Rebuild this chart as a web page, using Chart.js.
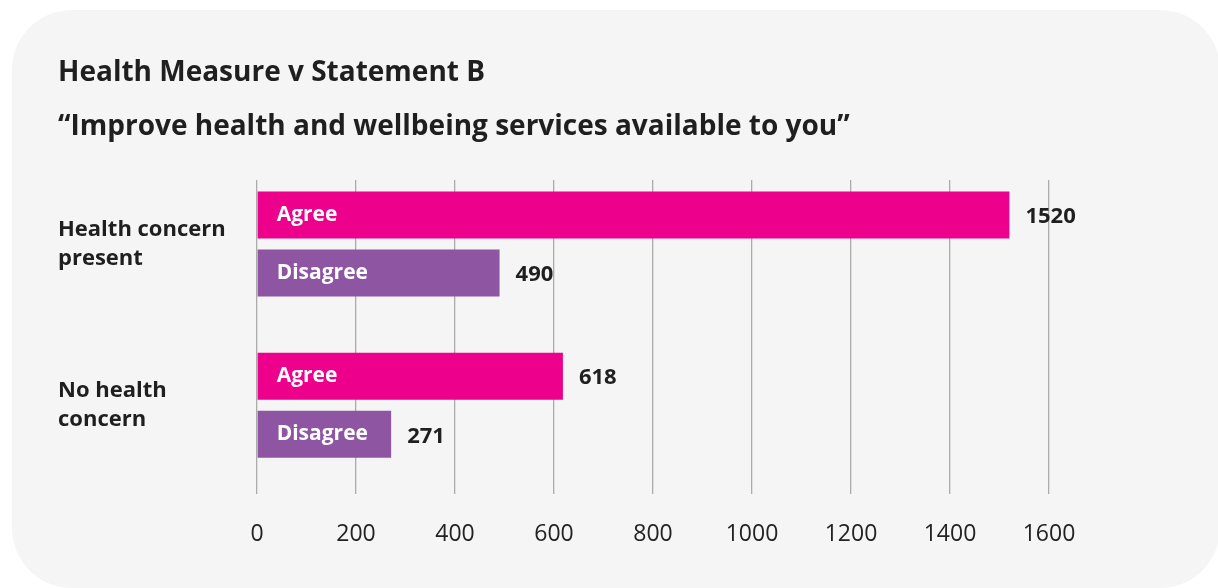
<!DOCTYPE html>
<html>
<head>
<meta charset="utf-8">
<script src="https://cdn.jsdelivr.net/npm/chart.js@4/dist/chart.umd.min.js"></script>
<style>
html, body { margin: 0; padding: 0; background: #ffffff; }
body { width: 1218px; height: 588px; overflow: hidden; position: relative; }
#card {
    position: absolute; left: 12px; top: 10px;
    width: 1208px; height: 578px;
    background: #f5f5f5; border-radius: 60px;
}
#chart { position: absolute; left: 0; top: 0; width: 1218px; height: 588px; }
</style>
</head>
<body>
<div id="card"></div>
<canvas id="chart" width="1218" height="588"></canvas>
<script>

// data
let groups = [["Health concern", "present"], ["No health", "concern"]];
let seriesNames = ["Agree", "Disagree"];
let agree = [1520, 618];
let disagree = [490, 271];
let xTicks = [0, 200, 400, 600, 800, 1000, 1200, 1400, 1600];

let fontName = "'Open Sans', sans-serif";


// labels inside bars and values after bar end
const barText = {
    id: "barText",
    afterDatasetsDraw(chart){
        let ctx = chart.ctx;
        ctx.save();
        ctx.textBaseline = "middle";
        ctx.textAlign = "left";
        chart.data.datasets.forEach((ds, di) => {
            let meta = chart.getDatasetMeta(di);
            meta.data.forEach((bar, i) => {
                ctx.font = "bold 21px " + fontName;
                ctx.fillStyle = "#ffffff";
                ctx.fillText(ds.label, bar.base + 19, bar.y);
                ctx.font = "bold 22px " + fontName;
                ctx.fillStyle = "#1f1f1f";
                ctx.fillText(ds.data[i].x, bar.x + 16, bar.y + 2);
            });
        });
        ctx.restore();
    }
};


new Chart(document.getElementById("chart"), {
    type: "bar",
    data: {
        datasets: [{
            label: seriesNames[0],
            data: agree.map((v, i) => ({x: v, y: i})),
            backgroundColor: "#ec008c"
        }, {
            label: seriesNames[1],
            data: disagree.map((v, i) => ({x: v, y: i})),
            backgroundColor: "#8e55a3"
        }]
    },
    options: {
        indexAxis: "y",
        responsive: false,
        animation: false,
        categoryPercentage: 0.7205,
        barPercentage: 0.81,
        layout: { padding: { left: 58, right: 169, bottom: 14, top: 0 } },
        plugins: {
            legend: { display: false },
            tooltip: { enabled: false },
            title: {
                display: true,
                align: "start",
                text: "Health Measure v Statement B",
                color: "#1f1f1f",
                font: { family: fontName, size: 28, weight: "bold", lineHeight: 1.2 },
                padding: { top: 56, bottom: 10 }
            },
            subtitle: {
                display: true,
                align: "start",
                text: "\u201cImprove health and wellbeing services available to you\u201d",
                color: "#1f1f1f",
                font: { family: fontName, size: 28, weight: "bold", lineHeight: 1.2 },
                padding: { top: 10.6, bottom: 36.2 }
            }
        },
        scales: {
            x: {
                min: 0,
                max: 1600,
                afterBuildTicks(scale){
                    scale.ticks = xTicks.map(v => ({value: v}));
                },
                grid: { color: "#ababab", lineWidth: 1.3, drawTicks: false },
                border: { display: false },
                ticks: {
                    color: "#222222",
                    padding: 26,
                    font: { family: fontName, size: 23 },
                    callback: (v) => String(v)
                }
            },
            y: {
                type: "linear",
                reverse: true,
                offset: false,
                min: -0.3975,
                max: 1.553,
                afterBuildTicks(scale){
                    scale.ticks = groups.map((g, i) => ({value: i}));
                },
                afterFit(scale){
                    scale.width = 199;
                },
                grid: { display: false, offset: false },
                border: { display: false },
                ticks: {
                    crossAlign: "far",
                    color: "#1f1f1f",
                    font: { family: fontName, size: 22, weight: "bold", lineHeight: 1.3 },
                    callback: (v) => groups[v] || ""
                }
            }
        }
    },
    plugins: [barText]
});

</script>
</body>
</html>
